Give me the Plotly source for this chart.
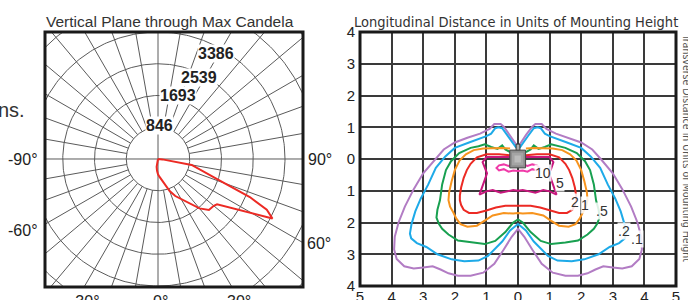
import numpy as np
import plotly.graph_objects as go

# ---------------- data: left (vertical plane polar candela) ----------------
ring_values = [846, 1693, 2539, 3386]
ring_labels = ["846", "1693", "2539", "3386"]
angle_labels = ["-90°", "90°", "-60°", "60°", "-30°", "0°", "30°"]
candela_angles = [-20, -10, -5, 0, 5, 10, 15, 20, 25, 30, 35, 40, 45, 50, 52.5, 55,
                  57.5, 60, 62.5, 65, 67.5, 70, 72.5, 75, 77.5, 80, 85, 90]
candela_values = [0, 210, 310, 410, 480, 570, 720, 910, 1090, 1240, 1450, 1720, 1920,
                  1940, 1985, 2210, 2560, 2930, 3440, 3200, 2650, 1870, 1460, 1215,
                  1040, 910, 120, 0]

# ---------------- data: right (isofootcandle plot, right half, mirrored) ----------------
x_ticks = [-5, -4, -3, -2, -1, 0, 1, 2, 3, 4, 5]
y_ticks = [-4, -3, -2, -1, 0, 1, 2, 3, 4]
level_labels = ["10", "5", "2", "1", ".5", ".2", ".1"]

fc01_x = [0.05, 0.25, 0.45, 0.55, 0.75, 0.9, 1.2, 1.6, 2.0, 2.35, 2.62, 3.0, 3.3, 3.58, 3.78,
          3.9, 3.92, 3.84, 3.6, 3.3, 3.0, 2.7, 2.45, 2.2, 1.9, 1.5, 1.1, 0.75, 0.45, 0.2, 0.0]
fc01_y = [-0.45, -0.75, -1.02, -1.1, -1.1, -0.95, -0.8, -0.67, -0.52, -0.3, 0.0, 0.45, 0.95,
          1.5, 2.0, 2.45, 2.85, 3.15, 3.38, 3.45, 3.42, 3.38, 3.48, 3.6, 3.68, 3.68, 3.58,
          3.3, 2.85, 2.45, 2.2]
fc02_x = [0.05, 0.3, 0.5, 0.62, 0.72, 0.85, 1.0, 1.55, 2.0, 2.3, 2.6, 2.84, 3.08, 3.25, 3.37,
          3.42, 3.38, 3.2, 2.9, 2.55, 2.1, 1.7, 1.25, 0.95, 0.5, 0.25, 0.0]
fc02_y = [-0.35, -0.7, -0.97, -1.0, -0.97, -0.8, -0.72, -0.52, -0.35, -0.08, 0.28, 0.8, 1.25,
          1.65, 2.05, 2.35, 2.5, 2.65, 2.77, 3.0, 3.16, 3.22, 3.2, 3.05, 2.6, 2.25, 2.05]
fc05_x = [0.25, 0.4, 0.5, 0.65, 0.85, 1.05, 1.25, 1.5, 1.86, 2.12, 2.28, 2.4, 2.47, 2.55,
          2.58, 2.5, 2.4, 2.2, 1.9, 1.5, 1.05, 0.72, 0.4, 0.15, 0.0]
fc05_y = [-0.22, -0.3, -0.43, -0.32, -0.38, -0.46, -0.4, -0.35, -0.19, 0.07, 0.35, 0.8, 1.3,
          1.6, 1.85, 2.05, 2.2, 2.38, 2.57, 2.63, 2.68, 2.58, 2.3, 2.0, 1.9]
fc1_x = [0.25, 0.5, 0.8, 1.1, 1.4, 1.65, 1.85, 2.0, 2.1, 2.18, 2.2, 2.15, 2.05, 1.95, 1.82,
         1.6, 1.3, 1.05, 0.8, 0.45, 0.15, 0.0]
fc1_y = [-0.33, -0.35, -0.34, -0.33, -0.28, -0.15, 0.05, 0.35, 0.7, 1.05, 1.3, 1.5, 1.68,
         1.88, 2.05, 2.13, 2.1, 1.95, 1.78, 1.7, 1.72, 1.7]
fc2_x = [0.25, 0.6, 1.0, 1.3, 1.5, 1.62, 1.72, 1.8, 1.84, 1.84, 1.8, 1.72, 1.55, 1.3, 1.0,
         0.7, 0.4, 0.0]
fc2_y = [-0.12, -0.15, -0.15, -0.05, 0.15, 0.35, 0.6, 0.9, 1.15, 1.3, 1.45, 1.6, 1.7, 1.7,
         1.62, 1.53, 1.47, 1.47]
fc5_x = [0.25, 0.6, 1.0, 1.12, 1.05, 0.98, 1.05, 1.12, 1.22, 1.0, 0.8, 0.55, 0.35, 0.15, 0.0]
fc5_y = [-0.06, -0.06, -0.06, 0.1, 0.3, 0.45, 0.65, 0.85, 1.12, 1.02, 0.98, 1.06, 1.02,
         0.98, 1.0]
fc10_x = [0.0, 0.15, 0.3, 0.45, 0.6, 0.68, 0.6, 0.45, 0.3, 0.15, 0.0]
fc10_y = [0.22, 0.17, 0.22, 0.17, 0.2, 0.28, 0.36, 0.32, 0.4, 0.36, 0.38]

W, H = 688, 300


def px(x):
    return x / W


def py(y):
    return 1 - y / H


SANS = "Liberation Sans, Arial, sans-serif"
NARROW = "Liberation Sans Narrow, Arial Narrow, DejaVu Sans Condensed, Liberation Sans, sans-serif"

fig = go.Figure()

# ---------------- left panel ----------------
step = ring_values[1] - ring_values[0]
radii = ring_values + [ring_values[-1] + step, ring_values[-1] + 2 * step]
t = np.linspace(0, 2 * np.pi, 361)
gx, gy = [], []
for r in radii:
    gx += list(r * np.sin(t)) + [None]
    gy += list(r * np.cos(t)) + [None]
for a in range(0, 360, 10):
    th = np.radians(a)
    r0 = 0 if a % 90 == 0 else ring_values[0]
    gx += [r0 * np.sin(th), 9000 * np.sin(th), None]
    gy += [-r0 * np.cos(th), -9000 * np.cos(th), None]
fig.add_trace(go.Scatter(x=gx, y=gy, mode="lines", line=dict(color="#5a5a5a", width=1),
                         hoverinfo="skip", showlegend=False, xaxis="x", yaxis="y"))

th = np.radians(candela_angles)
cv = np.array(candela_values)
fig.add_trace(go.Scatter(x=cv * np.sin(th), y=-cv * np.cos(th), mode="lines",
                         line=dict(color="#ec2a24", width=2), showlegend=False,
                         xaxis="x", yaxis="y"))

# ---------------- right panel ----------------
levels = [
    (fc01_x, fc01_y, "#b27cc4"),
    (fc02_x, fc02_y, "#1eaae8"),
    (fc05_x, fc05_y, "#18a050"),
    (fc1_x, fc1_y, "#f7941e"),
    (fc2_x, fc2_y, "#ec2a24"),
    (fc5_x, fc5_y, "#c8177e"),
    (fc10_x, fc10_y, "#f03aa8"),
]
for hx, hy, col in levels:
    xs = [-v for v in hx] + hx[::-1]
    ys = list(hy) + hy[::-1]
    fig.add_trace(go.Scatter(x=xs, y=ys, mode="lines", line=dict(color=col, width=2),
                             showlegend=False, xaxis="x2", yaxis="y2"))

label_pos = [(0.8, 0.45), (1.33, 0.75), (1.8, 1.36), (2.13, 1.44), (2.67, 1.65),
             (3.37, 2.26), (3.78, 2.52)]
annotations = []
for txt, (lx, ly) in zip(level_labels, label_pos):
    annotations.append(dict(x=lx, y=ly, xref="x2", yref="y2", text=txt, showarrow=False,
                            xanchor="center", yanchor="middle",
                            font=dict(family=SANS, size=14, color="#333"),
                            bgcolor="rgba(255,255,255,0.85)", borderpad=0))

ring_pos = [(53, 906), (520, 1706), (1093, 2186), (1546, 2826)]
for txt, (lx, ly) in zip(ring_labels, ring_pos):
    annotations.append(dict(x=lx, y=ly, xref="x", yref="y", text="<b>%s</b>" % txt,
                            showarrow=False, xanchor="center", yanchor="middle",
                            font=dict(family=SANS, size=16, color="#222"),
                            bgcolor="white", borderpad=0))

ang_pos = [(40, 159, "right", "middle"), (306, 159, "left", "middle"),
           (40, 230, "right", "middle"), (305, 243, "left", "middle"),
           (85, 291, "center", "top"), (160, 291, "center", "top"),
           (239, 291, "center", "top")]
for txt, (ax, ay, xa, ya) in zip(angle_labels, ang_pos):
    annotations.append(dict(x=px(ax), y=py(ay), xref="paper", yref="paper", text=txt,
                            showarrow=False, xanchor=xa, yanchor=ya,
                            font=dict(family=SANS, size=16, color="#222")))

annotations += [
    dict(x=px(170), y=py(21), xref="paper", yref="paper", xanchor="center",
         yanchor="middle", text="Vertical Plane through Max Candela", showarrow=False,
         font=dict(family=SANS, size=15.5, color="#333")),
    dict(x=px(516), y=py(22), xref="paper", yref="paper", xanchor="center",
         yanchor="middle", text="Longitudinal Distance in Units of Mounting Height",
         showarrow=False, font=dict(family=NARROW, size=14.5, color="#333")),
    dict(x=px(678), y=py(31), xref="paper", yref="paper", xanchor="left", yanchor="top",
         text="Transverse Distance in Units of Mounting Height", textangle=90,
         showarrow=False, font=dict(family=NARROW, size=10.5, color="#555")),
    dict(x=px(27), y=py(110), xref="paper", yref="paper", xanchor="right",
         yanchor="middle", text="ns.", showarrow=False,
         font=dict(family=SANS, size=20, color="#333")),
]

shapes = [
    # luminaire
    dict(type="rect", xref="x2", yref="y2", x0=-0.06, x1=0.06, y0=-0.47, y1=-0.26,
         fillcolor="#b0b0b0", line=dict(color="#333", width=1)),
    dict(type="rect", xref="x2", yref="y2", x0=-0.26, x1=0.24, y0=-0.28, y1=0.28,
         fillcolor="#8e8e8e", line=dict(color="#444", width=1)),
    dict(type="rect", xref="x2", yref="y2", x0=-0.19, x1=0.17, y0=-0.2, y1=0.2,
         fillcolor="#a4a4a4", line=dict(width=0)),
    dict(type="rect", xref="x2", yref="y2", x0=-0.11, x1=0.09, y0=-0.11, y1=0.11,
         fillcolor="#bcbcbc", line=dict(width=0)),
    # frames
    dict(type="rect", xref="x domain", yref="y domain", x0=0, x1=1, y0=0, y1=1,
         line=dict(color="#1a1a1a", width=3)),
    dict(type="rect", xref="x2 domain", yref="y2 domain", x0=0, x1=1, y0=0, y1=1,
         line=dict(color="#1a1a1a", width=3)),
]

fig.update_layout(
    width=W, height=H, margin=dict(l=0, r=0, t=0, b=0, autoexpand=False),
    paper_bgcolor="white", plot_bgcolor="white", showlegend=False,
    xaxis=dict(domain=[px(45), px(303)], range=[-3013, 3866], showgrid=False,
               zeroline=False, showticklabels=False, fixedrange=True, automargin=False),
    yaxis=dict(domain=[py(287), py(32)], range=[-3413, 3386], showgrid=False,
               zeroline=False, showticklabels=False, fixedrange=True, automargin=False),
    xaxis2=dict(domain=[px(360), px(676)], range=[-5, 5], tickvals=x_ticks,
                ticktext=[str(abs(v)) for v in x_ticks], showgrid=True,
                gridcolor="#3a3a3a", gridwidth=1.6, zeroline=False, anchor="y2",
                tickfont=dict(family=SANS, size=15, color="#222"),
                ticks="", fixedrange=True, automargin=False),
    yaxis2=dict(domain=[py(286), py(32)], range=[4, -4], tickvals=y_ticks,
                ticktext=[str(abs(v)) for v in y_ticks], showgrid=True,
                gridcolor="#3a3a3a", gridwidth=1.6, zeroline=False, anchor="x2",
                tickfont=dict(family=SANS, size=15, color="#222"),
                ticks="", ticklabelstandoff=4, fixedrange=True, automargin=False),
    annotations=annotations, shapes=shapes,
)

fig.write_html("out.html", config={"displayModeBar": False},
               post_script="document.body.style.margin='0';document.body.style.overflow='hidden';")
